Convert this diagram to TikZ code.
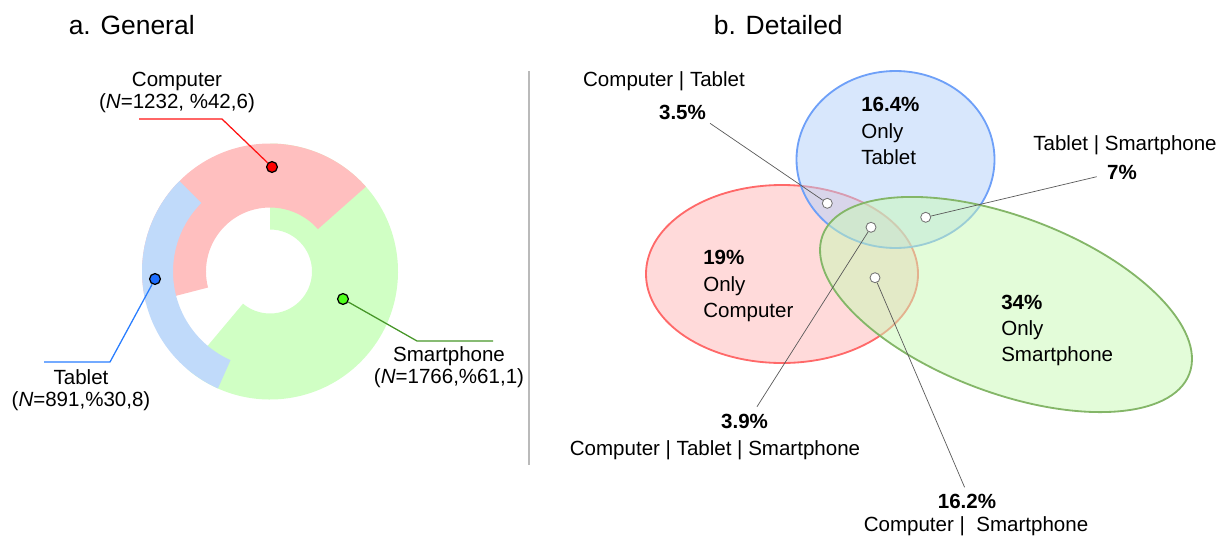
\documentclass[tikz,border=0pt]{standalone}
\usepackage{fontspec}
\setmainfont{Liberation Sans}
\usepackage{xcolor}

\definecolor{compring}{RGB}{255,191,191}
\definecolor{tabring}{RGB}{192,218,250}
\definecolor{smartring}{RGB}{208,255,196}
\definecolor{compdotc}{RGB}{255,0,0}
\definecolor{tabdotc}{RGB}{30,110,255}
\definecolor{smartdotc}{RGB}{80,255,30}
\definecolor{compline}{RGB}{255,20,20}
\definecolor{tabline}{RGB}{40,125,255}
\definecolor{smartline}{RGB}{70,150,40}
\definecolor{compset}{RGB}{255,182,182}
\definecolor{tabset}{RGB}{178,208,250}
\definecolor{smartset}{RGB}{200,250,180}
\definecolor{compedge}{RGB}{255,105,105}
\definecolor{tabedge}{RGB}{110,160,248}
\definecolor{smartedge}{RGB}{132,182,104}

\newcommand\labelfont{\fontsize{14.6}{15.6}\selectfont}
\newcommand\blockfont{\fontsize{14.6}{18.6}\selectfont}
\newcommand\headfont{\fontsize{18.8}{22}\selectfont}

\begin{document}
\begin{tikzpicture}[x=0.025cm,y=0.025cm,
  heading/.style={font=\headfont},
  tag/.style={align=center,font=\labelfont,inner sep=0pt},
  block/.style={align=left,anchor=west,font=\blockfont,inner sep=0pt},
  bullet/.style={draw=black,line width=0.9pt,circle,inner sep=0pt,minimum size=0.27cm},
  spot/.style={draw=black!55,fill=white,line width=0.6pt,circle,inner sep=0pt,minimum size=0.25cm},
  lead/.style={line width=0.9pt},
  pointer/.style={draw=black!65,line width=0.5pt},
  venn/.style={line width=1.3pt,fill opacity=0.5}]

  \useasboundingbox (0,0) rectangle (1230,-540);

  % Titles and divider
  \node[heading] (titlea) at (131.7,-25) {a. General};
  \node[heading] (titleb) at (778.3,-25) {b. Detailed};
  \draw[black!27,line width=1.4pt] (529,-71) -- (529,-465);

  % a. General: the ring pieces
  \begin{scope}[shift={(270,-271.5)}]
    \fill[smartring] (-130:128) arc[start angle=-130,end angle=90,radius=128]
      -- (90:42) arc[start angle=90,end angle=-130,radius=42] -- cycle;
    \fill[compring] (41.5:128) arc[start angle=41.5,end angle=194.5,radius=128]
      -- (194.5:64) arc[start angle=194.5,end angle=41.5,radius=64] -- cycle;
    \fill[tabring] (135:128) arc[start angle=135,end angle=246,radius=128]
      -- (246:97) arc[start angle=246,end angle=135,radius=97] -- cycle;
  \end{scope}

  \node[bullet,fill=compdotc] (compdot) at (272,-167) {};
  \node[bullet,fill=tabdotc] (tabdot) at (155,-279) {};
  \node[bullet,fill=smartdotc] (smartdot) at (343,-299) {};

  \coordinate (compbend) at (222,-119);
  \coordinate (compend) at (139,-119);
  \coordinate (tabbend) at (110,-362);
  \coordinate (tabend) at (44,-362);
  \coordinate (smartbend) at (417,-341);
  \coordinate (smartend) at (493,-341);

  \draw[lead,compline] (compdot) -- (compbend) -- (compend);
  \draw[lead,tabline] (tabdot) -- (tabbend) -- (tabend);
  \draw[lead,smartline] (smartdot) -- (smartbend) -- (smartend);

  \node[tag] (compname) at (177,-92) {Computer\\(\textit{N}=1232, \%42,6)};
  \node[tag] (tabname) at (81,-390) {Tablet\\(\textit{N}=891,\%30,8)};
  \node[tag] (smartname) at (449,-367.5) {Smartphone\\(\textit{N}=1766,\%61,1)};

  % b. Detailed: the three sets
  \draw[venn,draw=compedge,fill=compset] (782,-274) ellipse[x radius=136,y radius=89];
  \draw[venn,draw=tabedge,fill=tabset] (895.5,-159.5) ellipse[x radius=99,y radius=88.5];
  \draw[venn,draw=smartedge,fill=smartset,rotate around={-20.7:(1006,-304.5)}]
    (1006,-304.5) ellipse[x radius=196,y radius=88];

  \node[block] (tabonly) at (861,-131) {\textbf{16.4\%}\\Only\\Tablet};
  \node[block] (componly) at (703,-286) {\textbf{19\%}\\Only\\Computer};
  \node[block] (smartonly) at (1001,-330.5) {\textbf{34\%}\\Only\\Smartphone};

  \node[tag] (ctname) at (664,-81.7) {Computer | Tablet};
  \node[tag] (ctval) at (682.5,-112) {\textbf{3.5\%}};
  \node[tag] (tsname) at (1125,-145) {Tablet | Smartphone};
  \node[tag] (tsval) at (1122,-172.7) {\textbf{7\%}};
  \node[tag] (ctsval) at (744.6,-421.7) {\textbf{3.9\%}};
  \node[tag] (ctsname) at (715,-450) {Computer | Tablet | Smartphone};
  \node[tag] (csval) at (967,-501.7) {\textbf{16.2\%}};
  \node[tag] (csname) at (976,-526.7) {Computer |\ \ Smartphone};

  \node[spot] (ctspot) at (827.3,-203.3) {};
  \node[spot] (tsspot) at (925.7,-217.3) {};
  \node[spot] (ctsspot) at (871,-227.3) {};
  \node[spot] (csspot) at (875,-277.7) {};

  \coordinate (ctend) at (710,-123.3);
  \coordinate (tsend) at (1096.7,-176.7);
  \coordinate (ctsend) at (757,-406.7);
  \coordinate (csend) at (964.6,-487.3);

  \draw[pointer] (ctspot) -- (ctend);
  \draw[pointer] (tsspot) -- (tsend);
  \draw[pointer] (ctsspot) -- (ctsend);
  \draw[pointer] (csspot) -- (csend);
\end{tikzpicture}
\end{document}
